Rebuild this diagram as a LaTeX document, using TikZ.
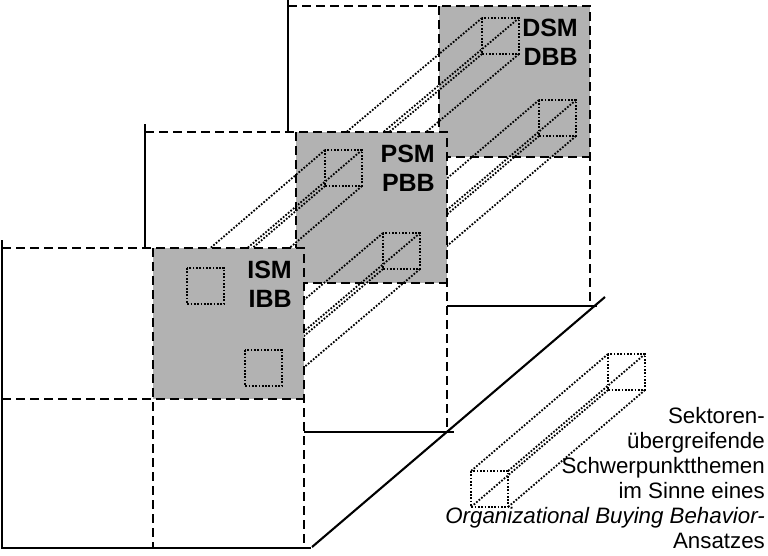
\documentclass[tikz,border=0pt]{standalone}
\usepackage{fontspec}
\setmainfont{Liberation Sans}

\definecolor{grau}{gray}{0.70}

\newcommand{\ZelleB}{151}
\newcommand{\EbeneB}{302}
\newcommand{\EbeneH}{300}
\newcommand{\QuaderB}{37}
\newcommand{\QuaderH}{36}
\newcommand{\drawEbene}[3]{
    \fill[white] (#1) rectangle ++(\EbeneB,\EbeneH);
    \fill[grau] ([shift={(\ZelleB,0)}]#1) rectangle ++(\ZelleB,\ZelleB);
    \draw[gestrichelt] (#1) -- ++(\EbeneB,0) -- ++(0,\EbeneH);
    \draw[gestrichelt] ([shift={(\ZelleB,0)}]#1) -- ++(0,\EbeneH);
    \draw[gestrichelt] ([shift={(0,\ZelleB)}]#1) -- ++(\EbeneB,0);
    \draw[kante] ([shift={(0,-8)}]#1) -- ++(0,\EbeneH+8) -- ++(\EbeneB+7,0);
    \node[kuerzel] (#2) at ([shift={(\EbeneB-12,13)}]#1) {#3};
}
\newcommand{\drawQuadrat}[1]{
    \draw[punktiert] (#1) rectangle ++(\QuaderB,\QuaderH);
}
\newcommand{\drawKanten}[2]{
    \foreach \dx/\dy in {0/0,\QuaderB/0,0/\QuaderH,\QuaderB/\QuaderH}
        \draw[punktiert] ([shift={(\dx,\dy)}]#1) -- ([shift={(\dx,\dy)}]#2);
}

\tikzset{
    kante/.style={line width=2.1pt},
    gestrichelt/.style={line width=2.1pt, dash pattern=on 9pt off 5pt},
    punktiert/.style={line width=1.8pt, dash pattern=on 1.7pt off 1.6pt},
    kuerzel/.style={anchor=north east, inner sep=0pt, align=right,
        font=\bfseries\fontsize{25}{29}\selectfont},
    legende/.style={anchor=north east, inner sep=0pt, align=right,
        font=\fontsize{22.3}{25}\selectfont}
}

\begin{document}
\begin{tikzpicture}[x=1pt,y=-1pt]
    \useasboundingbox (0,0) rectangle (768,555);

    \coordinate (E1) at (2,248);
    \coordinate (E2) at (145,132);
    \coordinate (E3) at (288,6);

    \coordinate (A1) at (187,268);
    \coordinate (A2) at (325,150);
    \coordinate (A3) at (482,18);
    \coordinate (B1) at (245,350);
    \coordinate (B2) at (383,233);
    \coordinate (B3) at (539,100);

    \drawEbene{E3}{dsm}{DSM\\DBB}
    \drawQuadrat{A3}
    \drawQuadrat{B3}
    \drawKanten{A3}{A2}
    \drawKanten{B3}{B2}

    \drawEbene{E2}{psm}{PSM\\PBB}
    \drawQuadrat{A2}
    \drawQuadrat{B2}
    \drawKanten{A2}{A1}
    \drawKanten{B2}{B1}

    \drawEbene{E1}{ism}{ISM\\IBB}
    \drawQuadrat{A1}
    \drawQuadrat{B1}

    \coordinate (Boden1) at (312,547);
    \coordinate (Boden2) at (605,297);
    \draw[kante] (Boden1) -- (Boden2);

    \coordinate (LegHinten) at (608,354);
    \coordinate (LegVorn) at (471,471);
    \drawQuadrat{LegHinten}
    \drawQuadrat{LegVorn}
    \drawKanten{LegHinten}{LegVorn}

    \node[legende] (legende) at (765,407) {Sektoren-\\übergreifende\\Schwerpunktthemen\\im Sinne eines\\\textit{Organizational Buying Behavior-}\\Ansatzes};
\end{tikzpicture}
\end{document}
